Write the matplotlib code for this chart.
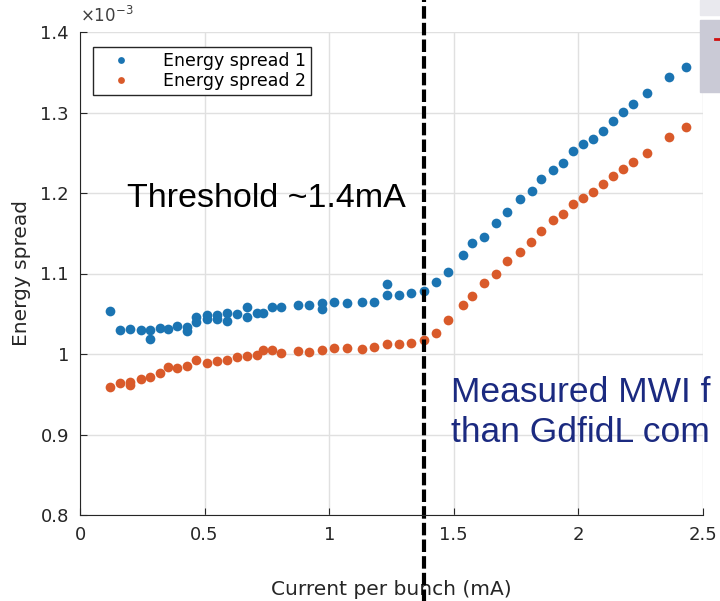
import matplotlib.pyplot as plt
from matplotlib.patches import Rectangle
from matplotlib.lines import Line2D

# values (energy spread in units of 1e-3)
current_1 = [0.12, 0.16, 0.20, 0.245, 0.28, 0.28, 0.32, 0.355, 0.39, 0.43, 0.43,
             0.465, 0.465, 0.51, 0.51, 0.55, 0.55, 0.59, 0.59, 0.63, 0.67, 0.67,
             0.71, 0.735, 0.77, 0.805, 0.875, 0.92, 0.97, 0.97, 1.02, 1.07, 1.13,
             1.18, 1.23, 1.23, 1.28, 1.33, 1.38, 1.43, 1.475, 1.535, 1.575, 1.62,
             1.67, 1.715, 1.765, 1.815, 1.85, 1.9, 1.94, 1.98, 2.02, 2.06, 2.10,
             2.14, 2.18, 2.22, 2.275, 2.365, 2.43]
spread_1 = [1.053, 1.030, 1.031, 1.030, 1.030, 1.019, 1.032, 1.031, 1.035, 1.034,
            1.029, 1.046, 1.040, 1.048, 1.043, 1.048, 1.043, 1.051, 1.041, 1.050,
            1.058, 1.046, 1.051, 1.051, 1.058, 1.058, 1.061, 1.061, 1.063, 1.056,
            1.065, 1.063, 1.065, 1.065, 1.087, 1.073, 1.073, 1.076, 1.078, 1.089,
            1.102, 1.123, 1.138, 1.145, 1.163, 1.176, 1.193, 1.202, 1.217, 1.229,
            1.237, 1.252, 1.261, 1.267, 1.277, 1.289, 1.301, 1.311, 1.324, 1.344,
            1.357]

current_2 = [0.12, 0.16, 0.20, 0.20, 0.245, 0.28, 0.32, 0.355, 0.39, 0.43, 0.465,
             0.51, 0.55, 0.59, 0.63, 0.67, 0.71, 0.735, 0.77, 0.805, 0.875, 0.92,
             0.97, 1.02, 1.07, 1.13, 1.18, 1.23, 1.28, 1.33, 1.38, 1.43, 1.475,
             1.535, 1.575, 1.62, 1.67, 1.715, 1.765, 1.81, 1.85, 1.9, 1.94, 1.98,
             2.02, 2.06, 2.10, 2.14, 2.18, 2.22, 2.275, 2.365, 2.43]
spread_2 = [0.959, 0.964, 0.965, 0.961, 0.969, 0.971, 0.976, 0.984, 0.983, 0.985,
            0.993, 0.989, 0.991, 0.993, 0.996, 0.998, 0.999, 1.005, 1.005, 1.001,
            1.004, 1.002, 1.005, 1.007, 1.007, 1.006, 1.009, 1.012, 1.012, 1.014,
            1.017, 1.026, 1.042, 1.061, 1.072, 1.088, 1.099, 1.116, 1.127, 1.139,
            1.153, 1.166, 1.174, 1.186, 1.194, 1.201, 1.211, 1.221, 1.230, 1.238,
            1.250, 1.270, 1.282]

x_ticks = [0, 0.5, 1, 1.5, 2, 2.5]
x_ticklabels = ["0", "0.5", "1", "1.5", "2", "2.5"]
y_ticks = [0.8, 0.9, 1.0, 1.1, 1.2, 1.3, 1.4]
y_ticklabels = ["0.8", "0.9", "1", "1.1", "1.2", "1.3", "1.4"]
threshold = 1.38

dark = "#262626"

fig = plt.figure(figsize=(7.2, 6.01), dpi=100)
ax = fig.add_axes([80 / 720, 1 - 515 / 601, 623 / 720, 483 / 601])

ax.plot(current_1, spread_1, "o", color="#1b74b2", ms=7, mec="none",
        label="Energy spread 1")
ax.plot(current_2, spread_2, "o", color="#d95a2a", ms=7, mec="none",
        label="Energy spread 2")

ax.set_xlim(0, 2.5)
ax.set_ylim(0.8, 1.4)
ax.set_xticks(x_ticks)
ax.set_xticklabels(x_ticklabels)
ax.set_yticks(y_ticks)
ax.set_yticklabels(y_ticklabels)
ax.tick_params(direction="in", length=5, labelsize=13, colors=dark, pad=8)
ax.grid(True, color="#e0e0e0", lw=1)
ax.set_axisbelow(True)
for side in ["top", "right"]:
    ax.spines[side].set_visible(False)
for side in ["left", "bottom"]:
    ax.spines[side].set_color(dark)

ax.set_xlabel("Current per bunch (mA)", fontsize=14.5, color=dark)
ax.xaxis.set_label_coords(0.5, -0.135)
ax.set_ylabel("Energy spread", fontsize=14.5, color=dark)
ax.yaxis.set_label_coords(-0.078, 0.5)
ax.text(0, 1.012, r"$\times10^{-3}$", transform=ax.transAxes, fontsize=12,
        color="#404040", va="bottom")

leg = ax.legend(loc="upper left", bbox_to_anchor=(0.021, 0.969), borderaxespad=0,
                fontsize=12.5, fancybox=False, edgecolor=dark, framealpha=1,
                markerscale=0.7, handlelength=2.6, handletextpad=1.1,
                borderpad=0.3, labelspacing=0.1)
leg.get_frame().set_linewidth(1)

ax.axvline(threshold, ymin=-0.18, ymax=1.07, clip_on=False, color="black",
           lw=3, dashes=(3, 1))

fig.text(127 / 720, 1 - 207 / 601, "Threshold ~1.4mA", fontsize=24.5,
         family="Liberation Sans", color="black", va="baseline")
fig.text(451 / 720, 1 - 402 / 601, "Measured MWI f", fontsize=25.5,
         family="Liberation Sans", color="#1b2a80", va="baseline")
fig.text(451 / 720, 1 - 442 / 601, "than GdfidL com", fontsize=25.5,
         family="Liberation Sans", color="#1b2a80", va="baseline")

# slide elements overlapping the top right corner
fig.patches.append(Rectangle((700 / 720, 1 - 15 / 601), 20 / 720, 15 / 601,
                             transform=fig.transFigure, color="#e9e9ee"))
fig.patches.append(Rectangle((700 / 720, 1 - 92 / 601), 20 / 720, 72 / 601,
                             transform=fig.transFigure, color="#cacad6"))
fig.lines.append(Line2D([715 / 720, 720 / 720], [1 - 39 / 601, 1 - 39 / 601],
                        transform=fig.transFigure, color="#d01010", lw=2))

fig.savefig("out.png", dpi=100)
